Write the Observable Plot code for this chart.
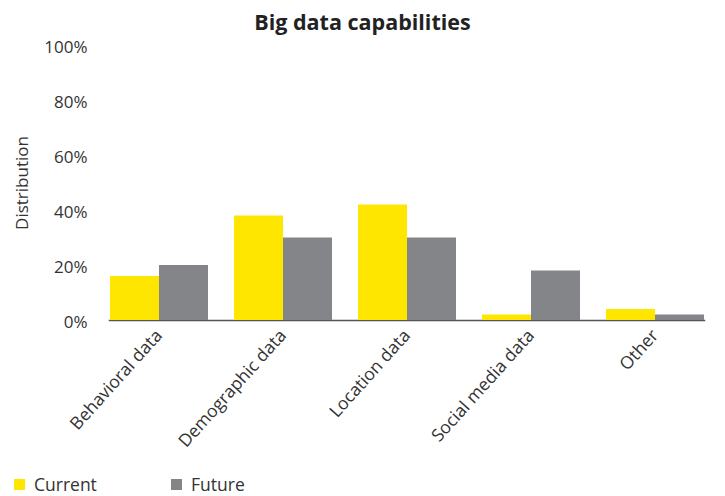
<!DOCTYPE html>
<html>
<head>
<meta charset="utf-8">
<script src="https://cdn.jsdelivr.net/npm/d3@7"></script>
<script src="https://cdn.jsdelivr.net/npm/@observablehq/plot@0.6"></script>
<style>
  html, body { margin: 0; padding: 0; background: #fff; }
  body { width: 725px; height: 496px; overflow: hidden; font-family: "Open Sans", sans-serif; color: #333; }
  #title { height: 28px; line-height: 44px; text-align: center; font-weight: bold; font-size: 21.5px; color: #222; position: relative; z-index: 1; }
  #chart svg { display: block; }
  #legend { position: relative; height: 26px; font-size: 17.5px; color: #333; }
  .item { position: absolute; top: 2px; display: flex; align-items: center; }
  .sw { width: 11px; height: 11px; margin-right: 9px; }
</style>
</head>
<body>
<div id="title">Big data capabilities</div>
<div id="chart"></div>
<div id="legend"></div>
<script>
const categories = ["Behavioral data", "Demographic data", "Location data", "Social media data", "Other"];
const seriesNames = ["Current", "Future"];
const current = [16, 38, 42, 2, 4];
const future = [20, 30, 30, 18, 2];
const colors = ["#FFE600", "#848589"];
const yTicks = [0, 20, 40, 60, 80, 100];

const rows = [];
categories.forEach((c, i) => {
  rows.push({category: c, series: seriesNames[0], value: current[i]});
  rows.push({category: c, series: seriesNames[1], value: future[i]});
});

const chart = Plot.plot({
  width: 725,
  height: 442,
  marginTop: 17,
  marginBottom: 150,
  marginLeft: 96,
  marginRight: 7,
  style: {fontFamily: "Open Sans, sans-serif", fontSize: "17px", color: "#333", overflow: "visible"},
  fx: {domain: categories, paddingInner: 0.2, paddingOuter: 0.1, label: null},
  x: {domain: seriesNames, padding: 0, axis: null},
  y: {domain: [0, 100]},
  color: {domain: seriesNames, range: colors},
  marks: [
    Plot.axisY({ticks: yTicks, tickSize: 0, tickPadding: 22, tickFormat: d => d + "%", fontSize: 17, dy: 2,
      label: "Distribution", labelAnchor: "center", labelArrow: "none", labelOffset: 94, fill: "#333"}),
    Plot.axisFx({anchor: "bottom", tickRotate: -48, tickSize: 0, tickPadding: 12, fontSize: 17.5, label: null, fill: "#333"}),
    Plot.frame({anchor: "bottom", stroke: "#555", strokeWidth: 1.5, facet: "super"}),
    Plot.barY(rows, {fx: "category", x: "series", y: "value", fill: "series"})
  ]
});
document.getElementById("chart").appendChild(chart);

const legend = d3.select("#legend");
const lefts = [14, 171];
seriesNames.forEach((s, i) => {
  const it = legend.append("div").attr("class", "item").style("left", lefts[i] + "px");
  it.append("div").attr("class", "sw").style("background", colors[i]);
  it.append("span").text(s);
});
</script>
</body>
</html>
